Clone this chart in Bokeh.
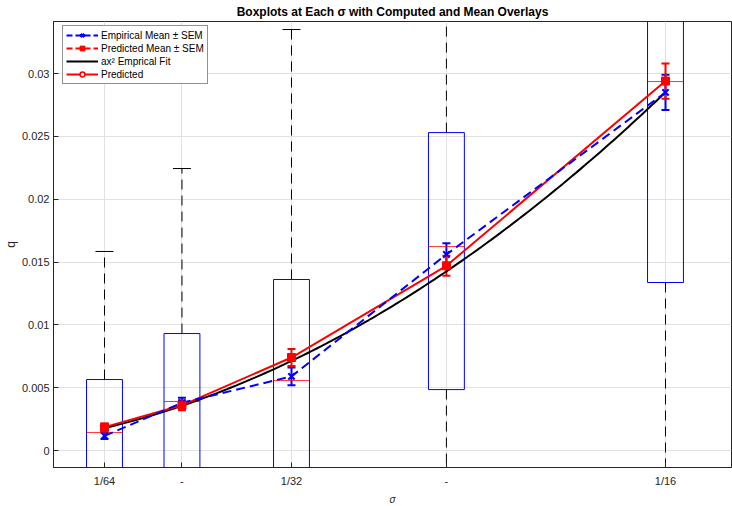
import numpy as np
from bokeh.plotting import figure
from bokeh.models import (ColumnDataSource, FixedTicker, Range1d, Legend, LegendItem,
                          Whisker, TeeHead)
from bokeh.embed import file_html
from bokeh.resources import INLINE

# ---------------- data ----------------
sigma = [0.015625, 0.0220971, 0.03125, 0.0441942, 0.0625]
tick_labels = ["1/64", "-", "1/32", "-", "1/16"]

box_q1 = [-0.004, -0.005, -0.006, 0.00485, 0.01337]
box_med = [0.00143, 0.0039, 0.00557, 0.01623, 0.02936]
box_q3 = [0.00565, 0.00931, 0.01361, 0.0253, 0.045]
whisk_lo = [-0.01, -0.012, -0.015, -0.02, -0.01]
whisk_hi = [0.01584, 0.02244, 0.0335, 0.05, 0.07]

emp_mean = [0.00117, 0.0038, 0.0059, 0.0156, 0.0285]
emp_sem = [0.00025, 0.0004, 0.0007, 0.0009, 0.0014]
pred_mean = [0.00186, 0.0036, 0.0074, 0.0147, 0.0294]
pred_sem = [0.0003, 0.0004, 0.00067, 0.0008, 0.0014]
fit_a = 7.30  # q = a * sigma^2

# ---------------- style ----------------
FONT = "Liberation Sans"
TXT = "#262626"
box_w = 0.0030
cap_w = 0.0015

p = figure(width=732, height=506, frame_width=678, frame_height=446,
           output_backend="svg", toolbar_location=None,
           x_range=Range1d(0.011364, 0.068015), y_range=Range1d(-0.00135, 0.03414),
           min_border_left=53, min_border_right=1, min_border_top=21, min_border_bottom=39,
           title="Boxplots at Each σ with Computed and Mean Overlays")
p.title.align = "center"
p.title.vertical_align = "top"
p.title.text_font = FONT
p.title.text_font_size = "12px"
p.title.text_font_style = "bold"
p.title.text_color = "#000000"
p.title.standoff = 2
p.title.offset = 0

p.outline_line_color = TXT
p.outline_line_width = 1
p.background_fill_color = "white"
p.border_fill_color = "white"

p.xaxis.ticker = FixedTicker(ticks=sigma)
p.xaxis.major_label_overrides = {s: lab for s, lab in zip(sigma, tick_labels)}
p.yaxis.ticker = FixedTicker(ticks=[0, 0.005, 0.01, 0.015, 0.02, 0.025, 0.03])
p.yaxis.major_label_overrides = {0: "0", 0.005: "0.005", 0.01: "0.01", 0.015: "0.015",
                                 0.02: "0.02", 0.025: "0.025", 0.03: "0.03"}
for ax in (p.xaxis[0], p.yaxis[0]):
    ax.major_tick_in = 5
    ax.major_tick_out = 0
    ax.minor_tick_in = 0
    ax.minor_tick_out = 0
    ax.axis_line_color = TXT
    ax.major_tick_line_color = TXT
    ax.major_label_text_font = FONT
    ax.major_label_text_font_size = "11px"
    ax.major_label_text_color = TXT
    ax.axis_label_text_font = FONT
    ax.axis_label_text_color = TXT
p.xaxis.major_label_standoff = 7
p.yaxis.major_label_standoff = 4
p.xaxis.axis_label = "σ"
p.xaxis.axis_label_text_font_style = "italic"
p.xaxis.axis_label_text_font_size = "10px"
p.xaxis.axis_label_standoff = 4
p.yaxis.axis_label = "q"
p.yaxis.axis_label_text_font_style = "normal"
p.yaxis.axis_label_text_font_size = "12px"
p.yaxis.axis_label_standoff = 1

p.grid.grid_line_color = "#e2e2e2"
p.grid.grid_line_width = 1

# ---------------- boxplots ----------------
sig = np.array(sigma)
bsrc = ColumnDataSource(dict(
    x=sig, q1=box_q1, q3=box_q3, med=box_med, lo=whisk_lo, hi=whisk_hi,
    xl=sig - box_w / 2, xr=sig + box_w / 2,
    cl=sig - cap_w / 2, cr=sig + cap_w / 2))

p.segment(x0="x", y0="q3", x1="x", y1="hi", source=bsrc, line_color="black",
          line_width=1, line_dash="10 6")
p.segment(x0="x", y0="q1", x1="x", y1="lo", source=bsrc, line_color="black",
          line_width=1, line_dash="10 6")
p.segment(x0="cl", y0="hi", x1="cr", y1="hi", source=bsrc, line_color="black", line_width=1)
p.segment(x0="cl", y0="lo", x1="cr", y1="lo", source=bsrc, line_color="black", line_width=1)
p.quad(left="xl", right="xr", bottom="q1", top="q3", source=bsrc, fill_color=None,
       line_color="#0000ff", line_width=1)
p.segment(x0="xl", y0="med", x1="xr", y1="med", source=bsrc, line_color="#ff0000",
          line_width=1, line_alpha=0.8)

# ---------------- fit & predicted lines ----------------
s_fine = np.linspace(sigma[0], sigma[-1], 120)
r_fit = p.line(s_fine, fit_a * s_fine ** 2, line_color="black", line_width=2)

esrc = ColumnDataSource(dict(x=sig, y=emp_mean,
                             lo=np.array(emp_mean) - np.array(emp_sem),
                             hi=np.array(emp_mean) + np.array(emp_sem)))
psrc = ColumnDataSource(dict(x=sig, y=pred_mean,
                             lo=np.array(pred_mean) - np.array(pred_sem),
                             hi=np.array(pred_mean) + np.array(pred_sem)))

r_pred_line = p.line("x", "y", source=psrc, line_color="#ff0000", line_width=2)
r_pred_circ = p.scatter("x", "y", source=psrc, marker="circle", size=6,
                        line_color="#ff0000", fill_color="white", line_width=1.5)

r_emp_line = p.line("x", "y", source=esrc, line_color="#0000ff", line_width=2,
                    line_dash="9 5")
p.add_layout(Whisker(base="x", lower="lo", upper="hi", source=esrc,
                     line_color="#0000ff", line_width=2,
                     upper_head=TeeHead(size=8, line_color="#0000ff", line_width=2),
                     lower_head=TeeHead(size=8, line_color="#0000ff", line_width=2)))
r_emp_mk = p.scatter("x", "y", source=esrc, marker="x", size=9, line_color="#0000ff",
                     line_width=2)

p.add_layout(Whisker(base="x", lower="lo", upper="hi", source=psrc,
                     line_color="#ff0000", line_width=2,
                     upper_head=TeeHead(size=8, line_color="#ff0000", line_width=2),
                     lower_head=TeeHead(size=8, line_color="#ff0000", line_width=2)))
r_pred_mk = p.scatter("x", "y", source=psrc, marker="square", size=8,
                      line_color="#ff0000", fill_color="#ff0000")

# legend-only glyphs: a single point far outside the visible y range (never shown in plot)
hidden = ColumnDataSource(dict(x=[sigma[0]], y=[-1.0]))
lg_emp_line = p.line("x", "y", source=hidden, line_color="#0000ff", line_width=2, line_dash="6 3")
lg_emp_bar = p.scatter("x", "y", source=hidden, marker="dash", angle=np.pi / 2, size=11,
                       line_color="#0000ff", line_width=3)
lg_emp_x = p.scatter("x", "y", source=hidden, marker="x", size=7, line_color="#0000ff",
                     line_width=2)
lg_pred_line = p.line("x", "y", source=hidden, line_color="#ff0000", line_width=2, line_dash="6 3")
lg_pred_bar = p.scatter("x", "y", source=hidden, marker="dash", angle=np.pi / 2, size=11,
                        line_color="#ff0000", line_width=3)
lg_pred_sq = p.scatter("x", "y", source=hidden, marker="square", size=6,
                       line_color="#ff0000", fill_color="#ff0000")

legend = Legend(items=[
    LegendItem(label="Empirical Mean ± SEM", renderers=[lg_emp_line, lg_emp_bar, lg_emp_x]),
    LegendItem(label="Predicted Mean ± SEM", renderers=[lg_pred_line, lg_pred_bar, lg_pred_sq]),
    LegendItem(label="ax² Emprical Fit", renderers=[r_fit]),
    LegendItem(label="Predicted", renderers=[r_pred_line, r_pred_circ]),
], location=(9, 383))
legend.label_text_font = FONT
legend.label_text_font_size = "10px"
legend.label_text_color = "#000000"
legend.glyph_width = 32
legend.glyph_height = 12
legend.label_height = 12
legend.spacing = 1
legend.padding = 3
legend.margin = 0
legend.label_standoff = 3
legend.border_line_color = TXT
legend.border_line_width = 1
legend.background_fill_alpha = 1
p.add_layout(legend)

open("out.html", "w").write(file_html(p, INLINE))
